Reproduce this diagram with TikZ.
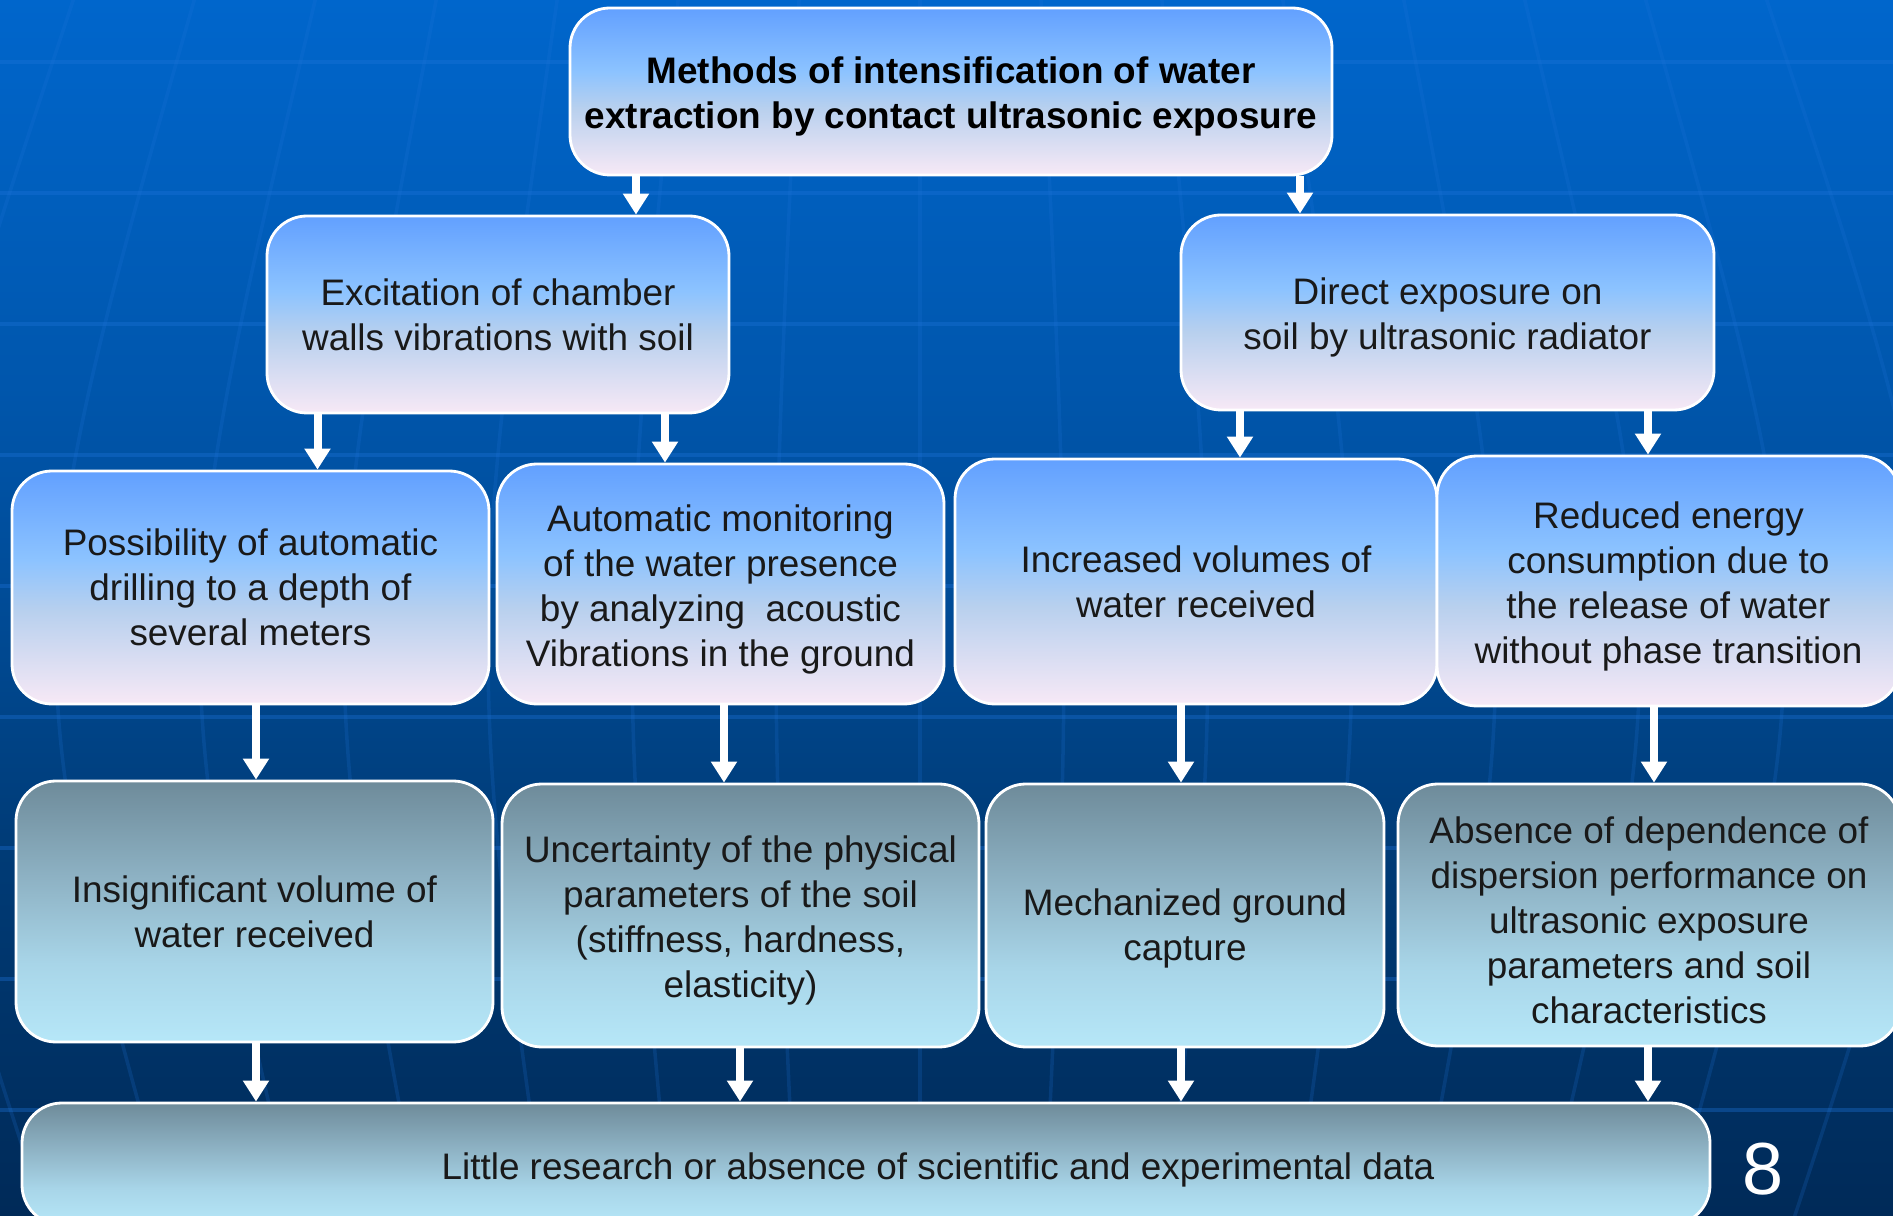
\documentclass[tikz,border=0pt]{standalone}
\usepackage{fontspec}
\setmainfont{Liberation Sans}
\usetikzlibrary{arrows.meta}

\definecolor{uptop}{HTML}{62A0FF}
\definecolor{uplight}{HTML}{8CC3FF}
\definecolor{upmid}{HTML}{B8D0EE}
\definecolor{upbot}{HTML}{F7E9F6}
\definecolor{lowtop}{HTML}{6E8B9A}
\definecolor{lowmid}{HTML}{90B5C7}
\definecolor{lowlight}{HTML}{A8D5E8}
\definecolor{lowbot}{HTML}{B6E7F8}
\definecolor{skytop}{HTML}{0066CC}
\definecolor{skyhigh}{HTML}{005AB4}
\definecolor{skymid}{HTML}{004B96}
\definecolor{skylow}{HTML}{003B76}
\definecolor{skybot}{HTML}{002A58}
\definecolor{gridblue}{HTML}{1F74DA}

\pgfdeclareverticalshading{upper shade}{100bp}{color(0bp)=(upbot); color(25bp)=(upbot); color(45bp)=(upmid); color(56bp)=(uplight); color(75bp)=(uptop); color(100bp)=(uptop)}
\pgfdeclareverticalshading{lower shade}{100bp}{color(0bp)=(lowbot); color(25bp)=(lowbot); color(40bp)=(lowlight); color(55bp)=(lowmid); color(75bp)=(lowtop); color(100bp)=(lowtop)}
\pgfdeclareverticalshading{sky shade}{100bp}{color(0bp)=(skybot); color(25bp)=(skybot); color(40bp)=(skylow); color(50bp)=(skymid); color(62.5bp)=(skyhigh); color(75bp)=(skytop); color(100bp)=(skytop)}

% taller first line, pushes the text a little down
\newcommand{\pad}[1]{\rule{0pt}{#1}}

\tikzset{
  upper box/.style={rectangle,rounded corners=0.4cm,draw=white,line width=0.8pt,shade,shading=upper shade,align=center,inner sep=2pt,text=black!90,font=\fontsize{10.5}{12.8}\selectfont},
  lower box/.style={upper box,shading=lower shade},
  grid line/.style={gridblue,opacity=0.35,line width=1pt},
  meridian/.style={gridblue,opacity=0.2,line width=1pt}
}

\begin{document}
\begin{tikzpicture}[>={Triangle[width=0.25cm,length=0.21cm]}]

    \useasboundingbox (0,0) rectangle (18.93,-12.16);

    % background with the globe grid
    \begin{scope}
      \clip (0,0) rectangle (18.93,-12.16);
      \shade[shading=sky shade] (0,0) rectangle (18.93,-12.16);
      \foreach \y in {0.62,1.93,...,11.2}
        \draw[grid line] (0,-\y) -- (18.93,-\y);
      \foreach \k in {-7,...,7}
        \draw[meridian] ({9.2+1.2*\k},0.2) .. controls ({9.2+1.52*\k},-6.5) .. ({9.2+1.2*\k},-13.2);
    \end{scope}

    \node[upper box,minimum width=7.62cm,minimum height=1.67cm,font=\fontsize{10.5}{12.8}\selectfont\bfseries,text=black] (1) at (9.51,-0.915)
      {\pad{10.5pt}Methods of intensification of water\\extraction by contact ultrasonic exposure};

    \node[upper box,minimum width=4.62cm,minimum height=1.97cm] (2) at (4.98,-3.145)
      {Excitation of chamber\\walls vibrations with soil};
    \node[upper box,minimum width=5.33cm,minimum height=1.95cm] (3) at (14.475,-3.125)
      {\pad{10.5pt}Direct exposure on\\soil by ultrasonic radiator};

    \node[upper box,minimum width=4.77cm,minimum height=2.33cm] (4) at (2.505,-5.875)
      {Possibility of automatic\\drilling to a depth of\\several meters};
    \node[upper box,minimum width=4.47cm,minimum height=2.40cm] (5) at (7.205,-5.84)
      {\pad{10.5pt}Automatic monitoring\\of the water presence\\by analyzing~ acoustic\\Vibrations in the ground};
    \node[upper box,minimum width=4.82cm,minimum height=2.45cm] (6) at (11.96,-5.815)
      {Increased volumes of\\water received};
    \node[upper box,minimum width=4.63cm,minimum height=2.50cm] (7) at (16.685,-5.81)
      {\pad{10.5pt}Reduced energy\\consumption due to\\the release of water\\without phase transition};

    \node[lower box,minimum width=4.77cm,minimum height=2.61cm] (8) at (2.545,-9.115)
      {Insignificant volume of\\water received};
    \node[lower box,minimum width=4.77cm,minimum height=2.63cm] (9) at (7.405,-9.155)
      {\pad{10.5pt}Uncertainty of the physical\\parameters of the soil\\(stiffness, hardness,\\elasticity)};
    \node[lower box,minimum width=3.98cm,minimum height=2.63cm] (10) at (11.85,-9.155)
      {\pad{15pt}Mechanized ground\\capture};
    \node[lower box,minimum width=5.02cm,minimum height=2.62cm] (11) at (16.49,-9.15)
      {\pad{10.5pt}Absence of dependence of\\dispersion performance on\\ultrasonic exposure\\parameters and soil\\characteristics};

    \node[lower box,minimum width=16.88cm,minimum height=1.22cm] (12) at (8.66,-11.64)
      {\hspace*{1.44cm}\pad{11pt}Little research or absence of scientific and experimental data};

    \node[text=white,font=\fontsize{21}{25}\selectfont] (13) at (17.63,-11.69) {8};

    \path[->,white,line width=0.08cm]
      (1.south -| 6.36,0) edge (2.north -| 6.36,0)
      (1.south -| 13.0,0) edge (3.north -| 13.0,0)
      (2.south -| 3.175,0) edge (4.north -| 3.175,0)
      (2.south -| 6.65,0) edge (5.north -| 6.65,0)
      (3.south -| 12.4,0) edge (6.north -| 12.4,0)
      (3.south -| 16.48,0) edge (7.north -| 16.48,0)
      (4.south -| 2.56,0) edge (8.north -| 2.56,0)
      (5.south -| 7.24,0) edge (9.north -| 7.24,0)
      (6.south -| 11.81,0) edge (10.north -| 11.81,0)
      (7.south -| 16.54,0) edge (11.north -| 16.54,0)
      (8.south -| 2.56,0) edge (12.north -| 2.56,0)
      (9.south -| 7.4,0) edge (12.north -| 7.4,0)
      (10.south -| 11.81,0) edge (12.north -| 11.81,0)
      (11.south -| 16.48,0) edge (12.north -| 16.48,0);
\end{tikzpicture}
\end{document}
